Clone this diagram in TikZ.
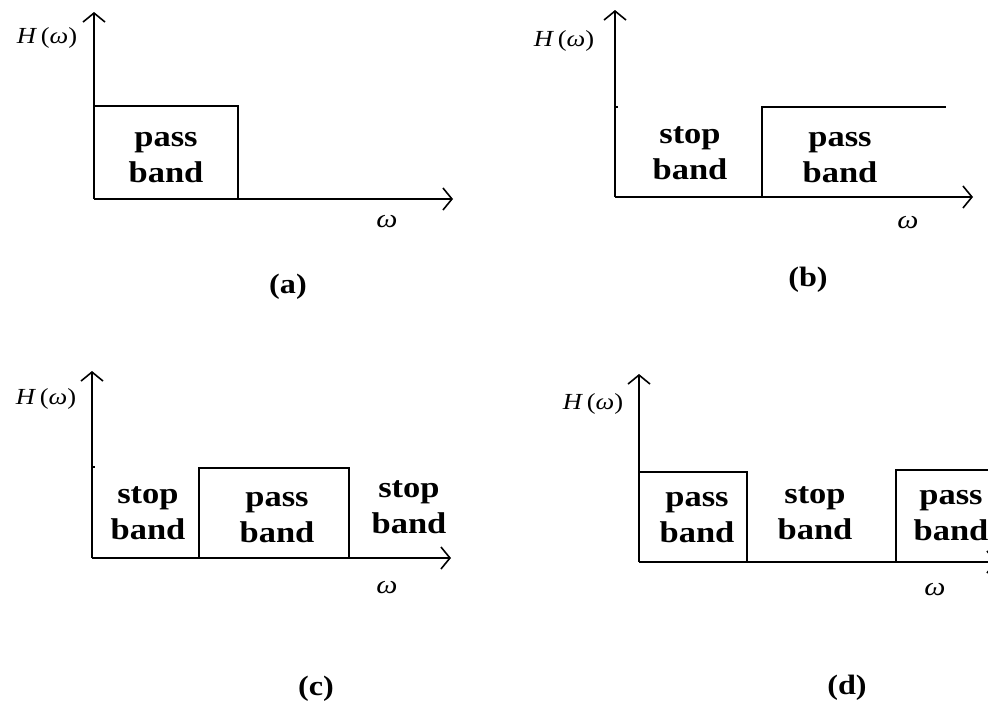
\documentclass[tikz,border=0pt]{standalone}
\usepackage{fontspec}
\setmainfont{Liberation Serif}
\newfontfamily\wideserif{Liberation Serif}[FakeStretch=1.15]
\usetikzlibrary{arrows.meta}

\tikzset{
  axis/.style={line width=1.6pt, -{Straight Barb[length=9pt,width=22pt]}},
  resp/.style={line width=1.6pt},
  axtick/.style={line width=1.2pt},
  band/.style={font=\wideserif\bfseries\fontsize{30}{36}\selectfont, align=center, inner sep=0pt},
  captext/.style={font=\wideserif\bfseries\fontsize{28}{32}\selectfont, inner sep=0pt},
  hlab/.style={font=\wideserif\fontsize{23}{26}\selectfont, inner sep=0pt},
  wlab/.style={font=\wideserif\fontsize{26}{28}\selectfont, inner sep=0pt},
}
\newcommand{\Hw}{\textit{H}\,(\textit{ω})}
\newcommand{\wsym}{\textit{ω}}

\begin{document}
\begin{tikzpicture}[x=1pt,y=-1pt]
\useasboundingbox (0,0) rectangle (988,704);
\clip (0,0) rectangle (988,704);

% ---------- (a) low pass ----------
\coordinate (oa) at (94,199);
\coordinate (ya) at (94,12);
\coordinate (xa) at (453,199);
\coordinate (ca1) at (94,106);
\coordinate (ca2) at (238,106);
\coordinate (ca3) at (238,199);
\draw[axis] (oa) -- (ya);
\draw[axis] (oa) -- (xa);
\draw[resp] (ca1) -- (ca2) -- (ca3);
\node[hlab] (ha) at (47,38) {\Hw};
\node[wlab] (wa) at (387,222) {\wsym};
\node[band] (pa) at (166,158) {pass\\band};
\node[captext] (la) at (288,287) {(a)};

% ---------- (b) high pass ----------
\coordinate (ob) at (615,197);
\coordinate (yb) at (615,10);
\coordinate (xb) at (973,197);
\coordinate (tb) at (618,107);
\coordinate (tb0) at (615,107);
\coordinate (cb1) at (762,197);
\coordinate (cb2) at (762,107);
\coordinate (cb3) at (946,107);
\draw[axis] (ob) -- (yb);
\draw[axis] (ob) -- (xb);
\draw[axtick] (tb0) -- (tb);
\draw[resp] (cb1) -- (cb2) -- (cb3);
\node[hlab] (hb) at (564,41) {\Hw};
\node[wlab] (wb) at (908,223) {\wsym};
\node[band] (sb) at (690,153) {stop\\band};
\node[band] (pb) at (840,158) {pass\\band};
\node[captext] (lb) at (808,280) {(b)};

% ---------- (c) band pass ----------
\coordinate (oc) at (92,558);
\coordinate (yc) at (92,371);
\coordinate (xc) at (451,558);
\coordinate (tc0) at (92,467);
\coordinate (tc) at (95,467);
\coordinate (cc1) at (199,558);
\coordinate (cc2) at (199,468);
\coordinate (cc3) at (349,468);
\coordinate (cc4) at (349,558);
\draw[axis] (oc) -- (yc);
\draw[axis] (oc) -- (xc);
\draw[axtick] (tc0) -- (tc);
\draw[resp] (cc1) -- (cc2) -- (cc3) -- (cc4);
\node[hlab] (hc) at (46,399) {\Hw};
\node[wlab] (wc) at (387,588) {\wsym};
\node[band] (sc1) at (148,513) {stop\\band};
\node[band] (pc) at (277,518) {pass\\band};
\node[band] (sc2) at (409,507) {stop\\band};
\node[captext] (lc) at (316,689) {(c)};

% ---------- (d) band stop ----------
\coordinate (od) at (639,562);
\coordinate (yd) at (639,374);
\coordinate (xd) at (997,562);
\coordinate (cd1) at (639,472);
\coordinate (cd2) at (747,472);
\coordinate (cd3) at (747,562);
\coordinate (cd4) at (896,562);
\coordinate (cd5) at (896,470);
\coordinate (cd6) at (1000,470);
\draw[axis] (od) -- (yd);
\draw[axis] (od) -- (xd);
\draw[resp] (cd1) -- (cd2) -- (cd3);
\draw[resp] (cd4) -- (cd5) -- (cd6);
\node[hlab] (hd) at (593,404) {\Hw};
\node[wlab] (wd) at (935,590) {\wsym};
\node[band] (pd1) at (697,518) {pass\\band};
\node[band] (sd) at (815,513) {stop\\band};
\node[band] (pd2) at (951,516) {pass\\band};
\node[captext] (ld) at (847,688) {(d)};
\end{tikzpicture}
\end{document}
